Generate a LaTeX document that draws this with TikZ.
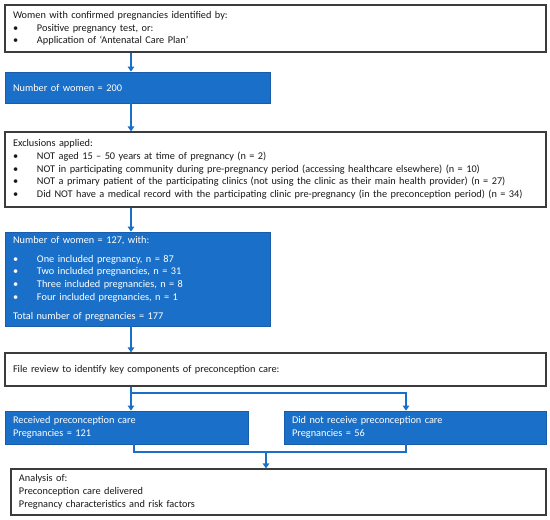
\documentclass[tikz,border=0pt]{standalone}
\usepackage{fontspec}
\setmainfont{Carlito}
\usetikzlibrary{arrows.meta}
\definecolor{flowblue}{RGB}{26,112,200}
\definecolor{flowedge}{RGB}{24,92,170}
\definecolor{boxedge}{RGB}{60,60,60}
\newcommand{\bitem}[1]{\makebox[24pt][l]{\textbullet}#1}

\begin{document}
\begin{tikzpicture}[x=1pt, y=-1pt,
  every node/.style={font=\fontsize{10.3}{12.7}\selectfont, align=left, inner xsep=8pt, inner ysep=0pt},
  whitebox/.style={draw=boxedge, line width=1.1pt, fill=white, text=black!90},
  bluebox/.style={draw=flowedge, line width=0.7pt, fill=flowblue, text=white},
  arr/.style={draw=flowblue, line width=1.6pt, -{Triangle[width=6.5pt,length=5pt]}},
  link/.style={draw=flowblue, line width=1.6pt}]
  \useasboundingbox (0,0) rectangle (550,520);

  % boxes, top to bottom
  \node[whitebox, text width=525pt, minimum height=47pt] (Identified) at (275.5,28.5)
    {Women with confirmed pregnancies identified by:\\
     \bitem{Positive pregnancy test, or:}\\
     \bitem{Application of ‘Antenatal Care Plan’}};
  \node[bluebox, text width=249pt, minimum height=31pt] (Women) at (137.5,87.5)
    {Number of women = 200};
  \node[whitebox, text width=525pt, minimum height=75pt] (Excl) at (275.5,169.5)
    {Exclusions applied:\\
     \bitem{NOT aged 15 – 50 years at time of pregnancy (n = 2)}\\
     \bitem{NOT in participating community during pre-pregnancy period (accessing healthcare elsewhere) (n = 10)}\\
     \bitem{NOT a primary patient of the participating clinics (not using the clinic as their main health provider) (n = 27)}\\
     \bitem{Did NOT have a medical record with the participating clinic pre-pregnancy (in the preconception period) (n = 34)}};
  \node[bluebox, text width=249pt, minimum height=94pt] (Included) at (137.5,279)
    {Number of women = 127, with:\\[6pt]
     \bitem{One included pregnancy, n = 87}\\
     \bitem{Two included pregnancies, n = 31}\\
     \bitem{Three included pregnancies, n = 8}\\
     \bitem{Four included pregnancies, n = 1}\\[7pt]
     Total number of pregnancies = 177};
  \node[whitebox, text width=525pt, minimum height=33pt] (Review) at (275.5,369.5)
    {File review to identify key components of preconception care:};
  \node[bluebox, text width=227pt, minimum height=33pt] (Recv) at (126.5,427.5)
    {Received preconception care\\ Pregnancies = 121};
  \node[bluebox, text width=246pt, minimum height=33pt] (NotRecv) at (415,427.5)
    {Did not receive preconception care\\ Pregnancies = 56};
  \node[whitebox, text width=519pt, minimum height=46pt] (Analysis) at (278.5,492)
    {Analysis of:\\ Preconception care delivered\\ Pregnancy characteristics and risk factors};

  % connectors
  \coordinate (Spine) at (131,0);
  \coordinate (LeftArm) at (134,0);
  \coordinate (RightArm) at (406,0);
  \coordinate (Split) at (131,393);
  \coordinate (Join) at (266,452);
  \draw[arr] (Identified.south -| Spine) -- (Women.north -| Spine);
  \draw[arr] (Women.south -| Spine) -- (Excl.north -| Spine);
  \draw[arr] (Excl.south -| Spine) -- (Included.north -| Spine);
  \draw[arr] (Included.south -| Spine) -- (Review.north -| Spine);
  \draw[link] (Review.south -| Spine) -- (Split);
  \draw[arr] (Split) -- (Recv.north -| Spine);
  \draw[arr] (Split) -| (NotRecv.north -| RightArm);
  \draw[link] (Recv.south -| LeftArm) -- (LeftArm |- Join) -- (RightArm |- Join) -- (NotRecv.south -| RightArm);
  \draw[arr] (Join) -- (Analysis.north -| Join);
\end{tikzpicture}
\end{document}
